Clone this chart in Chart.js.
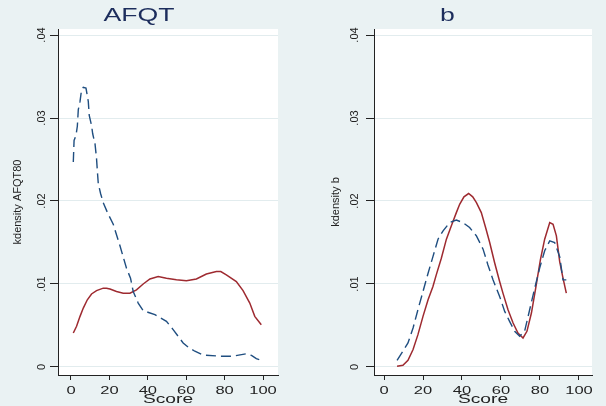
<!DOCTYPE html>
<html lang="en">
<head>
<meta charset="UTF-8">
<title>kdensity AFQT / b</title>
<script src="https://cdn.jsdelivr.net/npm/chart.js"></script>
<style>
  html, body { margin: 0; padding: 0; background: #EAF2F3; }
  #wrap { display: flex; width: 606px; height: 406px; }
  .panel { position: relative; width: 303px; height: 406px; }
</style>
</head>
<body>
<div id="wrap">
  <div class="panel"><canvas id="afqt"></canvas></div>
  <div class="panel"><canvas id="bpanel"></canvas></div>
</div>
<script>
// tick labels
const xTicks = [0, 20, 40, 60, 80, 100];
const xTickLabels = ['0', '20', '40', '60', '80', '100'];
const yTicks = [0, 0.01, 0.02, 0.03, 0.04];
const yTickLabels = ['0', '.01', '.02', '.03', '.04'];

// AFQT panel, dashed (blue) curve
const afqtBlueScore = [1.2, 1.6, 2.6, 3.3, 3.8, 4.7, 5.5, 6.4, 7.8, 9, 9.5, 10.7, 11.3, 12.5, 13.3, 13.7,
  14.2, 15.4, 16.8, 19, 22, 25.5, 28.9, 31, 32.4, 35, 37.6, 40, 43.7, 49.7, 53.2, 55.8, 58.4, 61,
  64.5, 68.8, 77.5, 84.4, 91.3, 94, 96.5, 99.1];
const afqtBlueDens = [0.0247, 0.0273, 0.0279, 0.029, 0.031, 0.032, 0.0334, 0.0337, 0.0336, 0.032, 0.0303,
  0.0291, 0.0281, 0.0269, 0.0251, 0.0237, 0.0221, 0.0209, 0.0198, 0.0186, 0.0172, 0.0146, 0.0119,
  0.0107, 0.0091, 0.0077, 0.0068, 0.0066, 0.0063, 0.0055, 0.0045, 0.0037, 0.0029, 0.0024, 0.0019,
  0.00145, 0.0013, 0.0013, 0.0016, 0.0014, 0.001, 0.0008];

// AFQT panel, solid (red) curve
const afqtRedScore = [1.2, 2.9, 4.7, 6.4, 8.5, 10.7, 13.3, 16.8, 18.5, 20.3, 23.7, 27.2, 30.7, 34.1, 37.6,
  41.1, 45.4, 49.7, 54.9, 60.1, 65.3, 70.5, 75.7, 78, 80.9, 86.1, 89.6, 93.1, 95.7, 99.1];
const afqtRedDens = [0.0041, 0.0049, 0.0061, 0.0071, 0.0081, 0.0088, 0.0092, 0.0095, 0.0095, 0.0094, 0.0091,
  0.0089, 0.0089, 0.0093, 0.01, 0.0106, 0.0109, 0.0107, 0.0105, 0.0104, 0.0106, 0.0112, 0.0115,
  0.0115, 0.0111, 0.0103, 0.0092, 0.0077, 0.0061, 0.0051];

// b panel, dashed (blue) curve
const bBlueScore = [6.7, 9.7, 12.3, 14.9, 17.4, 20, 22.6, 25.1, 27.7, 30.3, 33.7, 37.1, 40.5, 43.9, 47.4,
  50.8, 53.3, 55.9, 59.3, 61.9, 64.4, 67, 69.6, 72.1, 74.7, 77.3, 79.8, 82.4, 85, 87.5, 90.1, 91.8, 93.5];
const bBlueDens = [0.0008, 0.0019, 0.0029, 0.0047, 0.0069, 0.0091, 0.0113, 0.0133, 0.0154, 0.0164, 0.0174,
  0.0177, 0.0174, 0.0168, 0.0158, 0.0142, 0.0123, 0.0105, 0.0085, 0.0067, 0.0055, 0.0043, 0.0037,
  0.0043, 0.0069, 0.0095, 0.0119, 0.014, 0.0152, 0.015, 0.0133, 0.0105, 0.0105];

// b panel, solid (red) curve
const bRedScore = [6.7, 9.7, 12.3, 14.9, 17.4, 20, 22.6, 25.1, 26.8, 29.4, 32, 34.5, 37.1, 38.8, 41, 43.4,
  45.5, 47.4, 49.9, 52.1, 54.2, 56.8, 59.3, 61, 63.6, 66.2, 68.7, 71.3, 73.3, 75.6, 77.8, 80.2, 82.4,
  85, 86.7, 88.4, 90.1, 91.8, 93.5];
const bRedDens = [0.0001, 0.0002, 0.0008, 0.0021, 0.0039, 0.0061, 0.0081, 0.0097, 0.0111, 0.0131, 0.0154,
  0.017, 0.0186, 0.0196, 0.0205, 0.0209, 0.0205, 0.0198, 0.0186, 0.0168, 0.015, 0.0125, 0.0103,
  0.0089, 0.0069, 0.0053, 0.0041, 0.0035, 0.0043, 0.0065, 0.0095, 0.0129, 0.0154, 0.0174, 0.0172,
  0.0158, 0.0127, 0.0107, 0.0089];

const BLUE = '#1F4E80';
const RED = '#9E2A30';
const TITLE_COLOR = '#1C2D5C';
const INK = '#222222';
const GRID = '#E2ECEE';

function points(xs, ys) {
  return xs.map((x, i) => ({ x: x, y: ys[i] }));
}

// white plot region
const plotBackground = {
  id: 'plotBackground',
  beforeDraw(chart) {
    const a = chart.chartArea;
    const ctx = chart.ctx;
    ctx.save();
    ctx.fillStyle = '#ffffff';
    ctx.fillRect(a.left, a.top, a.right - a.left, a.bottom - a.top);
    ctx.restore();
  }
};

// Stata exports the horizontal text stretched sideways
function stretched(obj, fn, sx) {
  const orig = obj[fn];
  obj[fn] = function () {
    const c = this.ctx;
    const fill = c.fillText;
    c.fillText = function (t, x, y, w) {
      c.save();
      c.translate(x, y);
      c.scale(sx, 1);
      fill.call(c, t, 0, 0);
      c.restore();
    };
    const r = orig.apply(this, arguments);
    c.fillText = fill;
    return r;
  };
}
const wideText = {
  id: 'wideText',
  beforeDraw(chart) {
    if (chart.$wide) return;
    chart.$wide = true;
    stretched(chart.scales.x, 'drawLabels', 1.5);
    stretched(chart.scales.x, 'drawTitle', 1.6);
    stretched(chart.titleBlock, 'draw', 1.48);
  }
};

function makePanel(id, p) {
  new Chart(document.getElementById(id), {
    type: 'line',
    data: {
      datasets: [
        { data: points(p.blueX, p.blueY), borderColor: BLUE, borderWidth: 1.4, borderDash: [10, 5],
          pointRadius: 0, fill: false, tension: 0 },
        { data: points(p.redX, p.redY), borderColor: RED, borderWidth: 1.5,
          pointRadius: 0, fill: false, tension: 0 }
      ]
    },
    options: {
      responsive: true,
      maintainAspectRatio: false,
      animation: false,
      layout: { padding: { left: 0, right: p.padRight, top: 0, bottom: 0 } },
      plugins: {
        legend: { display: false },
        tooltip: { enabled: false },
        title: {
          display: true, text: p.title, color: TITLE_COLOR,
          font: { family: 'Liberation Sans', size: 18, weight: 'normal', lineHeight: 1.2 },
          padding: { top: 5, bottom: 2.4 }
        }
      },
      scales: {
        x: {
          type: 'linear', min: p.xMin, max: p.xMax,
          afterBuildTicks: s => { s.ticks = xTicks.map(v => ({ value: v })); },
          afterFit: s => { s.height = 31; },
          border: { color: INK, width: 1 },
          grid: { drawOnChartArea: false, tickLength: 5, tickColor: INK },
          ticks: {
            autoSkip: false, maxRotation: 0, minRotation: 0, padding: 4, color: INK,
            font: { family: 'Liberation Sans', size: 11 },
            callback: (v, i) => xTickLabels[i]
          },
          title: {
            display: true, text: 'Score', color: INK,
            font: { family: 'Liberation Sans', size: 12, lineHeight: 1 },
            padding: { top: 0, bottom: 0.5 }
          }
        },
        y: {
          type: 'linear', min: -0.000964, max: 0.040723,
          afterBuildTicks: s => { s.ticks = yTicks.map(v => ({ value: v })); },
          afterFit: s => { s.width = p.yWidth; },
          border: { color: INK, width: 1 },
          grid: { color: GRID, lineWidth: 1, tickLength: 8, tickColor: INK },
          ticks: {
            minRotation: 90, maxRotation: 90, crossAlign: 'center', padding: p.yPad, color: INK,
            font: { family: 'Liberation Sans', size: 11 },
            callback: (v, i) => yTickLabels[i]
          },
          title: {
            display: true, text: p.yTitle, color: INK,
            font: { family: 'Liberation Sans', size: 11, lineHeight: 1.2 },
            padding: { top: p.yTitlePad, bottom: 0 }
          }
        }
      }
    },
    plugins: [plotBackground, wideText]
  });
}

makePanel('afqt', {
  title: 'AFQT', yTitle: 'kdensity AFQT80',
  blueX: afqtBlueScore, blueY: afqtBlueDens, redX: afqtRedScore, redY: afqtRedDens,
  xMin: -6.77, xMax: 107.8, yWidth: 58, padRight: 25, yPad: 0, yTitlePad: 11.4
});
makePanel('bpanel', {
  title: 'b', yTitle: 'kdensity b',
  blueX: bBlueScore, blueY: bBlueDens, redX: bRedScore, redY: bRedDens,
  xMin: -5.13, xMax: 106.67, yWidth: 71, padRight: 14, yPad: 3, yTitlePad: 26.4
});
</script>
</body>
</html>
